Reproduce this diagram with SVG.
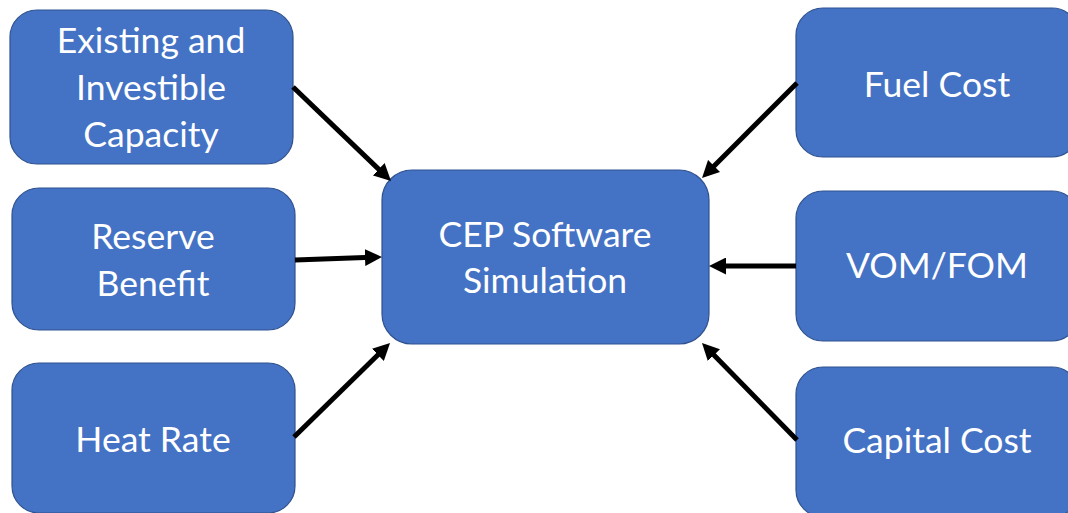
<svg xmlns="http://www.w3.org/2000/svg" width="1068" height="513" viewBox="0 0 1068 513">
<style>
.box{fill:#4472C4;stroke:#2F528F;stroke-width:1.2}
.t{font-family:Lato,"Liberation Sans",sans-serif;font-size:35.5px;fill:#FFFFFF;text-anchor:middle}
.c{stroke:#000;stroke-width:5;fill:none;marker-end:url(#ah)}
</style>
<defs>
<marker id="ah" markerUnits="userSpaceOnUse" markerWidth="17" markerHeight="17" viewBox="0 0 17 17" refX="7" refY="8.5" orient="auto">
<path d="M0,0 L17,8.5 L0,17 Z" fill="#000"/>
</marker>
</defs>
<rect width="1068" height="513" fill="#fff"/>
<g id="existing">
<rect class="box" x="10" y="10" width="283" height="154" rx="27"/>
<text class="t" x="151" y="53">Existing and</text>
<text class="t" x="151" y="100">Investible</text>
<text class="t" x="151" y="147">Capacity</text>
</g>
<g id="reserve">
<rect class="box" x="12" y="188" width="283" height="142" rx="27"/>
<text class="t" x="153" y="249">Reserve</text>
<text class="t" x="153" y="296">Benefit</text>
</g>
<g id="heatrate">
<rect class="box" x="12" y="363" width="283" height="150" rx="27"/>
<text class="t" x="153" y="452">Heat Rate</text>
</g>
<g id="cep">
<rect class="box" x="382" y="170" width="327" height="174" rx="30"/>
<text class="t" x="545" y="247">CEP Software</text>
<text class="t" x="545" y="293">Simulation</text>
</g>
<g id="fuel">
<rect class="box" x="796" y="8" width="283" height="149" rx="27"/>
<text class="t" x="937" y="97">Fuel Cost</text>
</g>
<g id="vomfom">
<rect class="box" x="796" y="191" width="283" height="150" rx="27"/>
<text class="t" x="937" y="278">VOM/FOM</text>
</g>
<g id="capital">
<rect class="box" x="796" y="367" width="283" height="150" rx="27"/>
<text class="t" x="937" y="453">Capital Cost</text>
</g>
<g id="connectors">
<line class="c" x1="293" y1="87" x2="383.8" y2="174.1"/>
<line class="c" x1="295" y1="260" x2="372" y2="257.3"/>
<line class="c" x1="294" y1="437" x2="382.9" y2="350"/>
<line class="c" x1="797" y1="83" x2="709.1" y2="170.9"/>
<line class="c" x1="796" y1="266" x2="719" y2="266"/>
<line class="c" x1="797" y1="440" x2="709" y2="350.1"/>
</g>
</svg>
